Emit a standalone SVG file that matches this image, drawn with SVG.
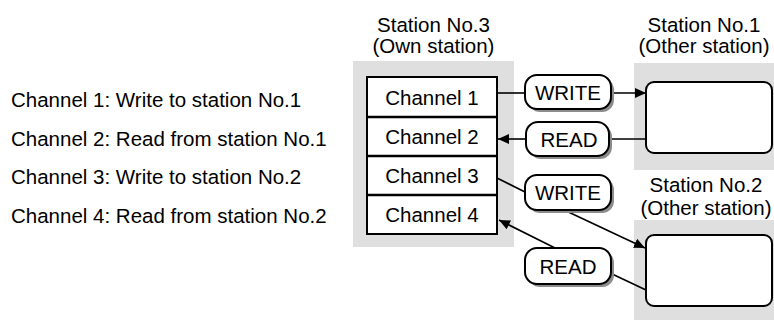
<svg xmlns="http://www.w3.org/2000/svg" width="774" height="322" viewBox="0 0 774 322">
<defs>
<style>
text{font-family:"Liberation Sans",Arial,sans-serif;font-size:20.5px;fill:#000}
.mid{text-anchor:middle}
.area{fill:#dfdfdf;stroke:none}
.box{fill:#fff;stroke:#000;stroke-width:2}
.div{stroke:#000;stroke-width:2.5}
.pill{fill:#fff;stroke:#000;stroke-width:2}
.shadow{fill:#8c8c8c;stroke:none}
.conn{stroke:#000;stroke-width:1.6;fill:none}
</style>
<marker id="arr" viewBox="0 0 10 10" refX="10" refY="5" markerWidth="11" markerHeight="11" markerUnits="userSpaceOnUse" orient="auto">
<path d="M0,0.5 L10,5 L0,9.5 Z" fill="#000"/>
</marker>
</defs>
<rect width="774" height="322" fill="#fff"/>

<g id="legend">
<text x="11" y="107">Channel 1: Write to station No.1</text>
<text x="11" y="145.5">Channel 2: Read from station No.1</text>
<text x="11" y="184">Channel 3: Write to station No.2</text>
<text x="11" y="222.5">Channel 4: Read from station No.2</text>
</g>

<g id="station3">
<text class="mid" x="433.5" y="32">Station No.3</text>
<text class="mid" x="433.5" y="53">(Own station)</text>
<rect class="area" x="353" y="61" width="161" height="186"/>
<rect class="box" x="367" y="77" width="130" height="157"/>
<line class="div" x1="367" y1="117" x2="497" y2="117"/>
<line class="div" x1="367" y1="156" x2="497" y2="156"/>
<line class="div" x1="367" y1="195" x2="497" y2="195"/>
<text class="mid" x="432" y="104.5">Channel 1</text>
<text class="mid" x="432" y="143.5">Channel 2</text>
<text class="mid" x="432" y="182.5">Channel 3</text>
<text class="mid" x="432" y="221.5">Channel 4</text>
</g>

<g id="station1">
<text class="mid" x="704" y="32">Station No.1</text>
<text class="mid" x="704" y="53">(Other station)</text>
<rect class="area" x="634" y="63" width="140" height="107"/>
<rect class="box" x="646" y="82" width="126" height="71" rx="8"/>
</g>

<g id="station2">
<text class="mid" x="706" y="191.5">Station No.2</text>
<text class="mid" x="706" y="215">(Other station)</text>
<rect class="area" x="634" y="220" width="140" height="100"/>
<rect class="box" x="646" y="235" width="126" height="71" rx="8"/>
</g>

<g id="connectors">
<line class="conn" x1="497" y1="93" x2="525" y2="93"/>
<line class="conn" x1="611" y1="93" x2="646" y2="93" marker-end="url(#arr)"/>
<line class="conn" x1="646" y1="139" x2="611" y2="139"/>
<line class="conn" x1="525" y1="139" x2="498" y2="139" marker-end="url(#arr)"/>
<line class="conn" x1="497" y1="178" x2="525" y2="192"/>
<line class="conn" x1="562" y1="209" x2="645" y2="248" marker-end="url(#arr)"/>
<line class="conn" x1="557" y1="249" x2="499" y2="220" marker-end="url(#arr)"/>
<line class="conn" x1="646" y1="290" x2="610" y2="273"/>
</g>

<g id="write1">
<rect class="shadow" x="528" y="78" width="86" height="34" rx="12"/>
<rect class="pill" x="525" y="75" width="86" height="34" rx="12"/>
<text class="mid" x="568" y="99.5">WRITE</text>
</g>
<g id="read1">
<rect class="shadow" x="529" y="125" width="83" height="34" rx="12"/>
<rect class="pill" x="526" y="122" width="83" height="34" rx="12"/>
<text class="mid" x="569" y="146.5">READ</text>
</g>
<g id="write2">
<rect class="shadow" x="528" y="178" width="86" height="35" rx="12"/>
<rect class="pill" x="525" y="175" width="86" height="35" rx="12"/>
<text class="mid" x="568" y="200">WRITE</text>
</g>
<g id="read2">
<rect class="shadow" x="528" y="251" width="86" height="36" rx="12"/>
<rect class="pill" x="525" y="248" width="86" height="36" rx="12"/>
<text class="mid" x="568" y="273.5">READ</text>
</g>
</svg>
